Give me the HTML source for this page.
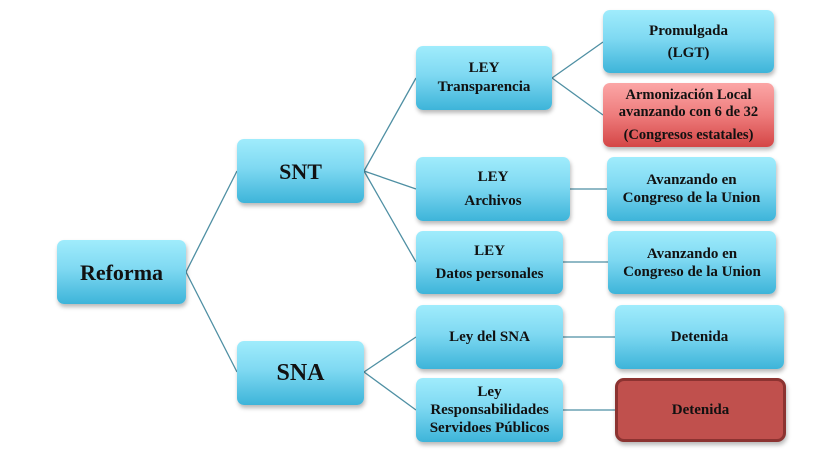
<!DOCTYPE html>
<html><head><meta charset="utf-8"><style>
body{margin:0;width:831px;height:471px;background:#fff;position:relative;overflow:hidden;font-family:"Liberation Serif","DejaVu Serif",serif;font-weight:bold;color:#111}
.b{position:absolute;border-radius:7px;background:linear-gradient(#a0ecfc 0%,#7fd9f2 45%,#3db4d9 100%);box-shadow:1px 3px 4px rgba(0,0,0,.28);display:flex;align-items:center;justify-content:center;text-align:center;font-size:15px;line-height:19px;box-sizing:border-box}
.b>div{width:100%}
.r{background:linear-gradient(#fba6a6 0%,#ee7c7c 50%,#d44646 100%)}
.d{background:#c0504d;border:3px solid #8c3331;border-radius:9px}
svg{position:absolute;left:0;top:0}
</style></head><body>
<svg width="831" height="471"><g stroke="#4e8fa3" stroke-width="1.3" fill="none">
<line x1="186" y1="272" x2="237" y2="171"/><line x1="186" y1="272" x2="237" y2="372"/>
<line x1="364" y1="171" x2="416" y2="78"/><line x1="364" y1="171" x2="416" y2="189"/><line x1="364" y1="171" x2="416" y2="262"/>
<line x1="364" y1="372" x2="416" y2="337"/><line x1="364" y1="372" x2="416" y2="410"/>
<line x1="552" y1="78" x2="603" y2="42"/><line x1="552" y1="78" x2="603" y2="115"/>
<line x1="570" y1="189" x2="607" y2="189"/><line x1="563" y1="262" x2="608" y2="262"/>
<line x1="563" y1="337" x2="615" y2="337"/><line x1="563" y1="410" x2="615" y2="410"/>
</g></svg>
<div class="b" style="left:57px;top:240px;width:129px;height:64px;font-size:22px"><div>Reforma</div></div>
<div class="b" style="left:237px;top:139px;width:127px;height:64px;font-size:22px"><div>SNT</div></div>
<div class="b" style="left:237px;top:341px;width:127px;height:64px;font-size:24px"><div>SNA</div></div>
<div class="b" style="left:416px;top:46px;width:136px;height:64px"><div>LEY<br>Transparencia</div></div>
<div class="b" style="left:416px;top:157px;width:154px;height:64px;line-height:24px"><div>LEY<br>Archivos</div></div>
<div class="b" style="left:416px;top:231px;width:147px;height:63px;line-height:23px"><div>LEY<br>Datos personales</div></div>
<div class="b" style="left:416px;top:305px;width:147px;height:64px"><div>Ley del SNA</div></div>
<div class="b" style="left:416px;top:378px;width:147px;height:64px;line-height:18px"><div>Ley<br>Responsabilidades<br>Servidoes Públicos</div></div>
<div class="b" style="left:603px;top:10px;width:171px;height:63px;line-height:22px"><div>Promulgada<br>(LGT)</div></div>
<div class="b r" style="left:603px;top:83px;width:171px;height:64px;line-height:17px;font-size:14.5px"><div style="white-space:nowrap">Armonización Local<br>avanzando con 6 de 32<br><span style="display:inline-block;margin-top:6px">(Congresos estatales)</span></div></div>
<div class="b" style="left:607px;top:157px;width:169px;height:64px;line-height:18px"><div>Avanzando en<br>Congreso de la Union</div></div>
<div class="b" style="left:608px;top:231px;width:168px;height:63px;line-height:18px"><div>Avanzando en<br>Congreso de la Union</div></div>
<div class="b" style="left:615px;top:305px;width:169px;height:64px"><div>Detenida</div></div>
<div class="b d" style="left:615px;top:378px;width:171px;height:64px"><div>Detenida</div></div>
</body></html>
